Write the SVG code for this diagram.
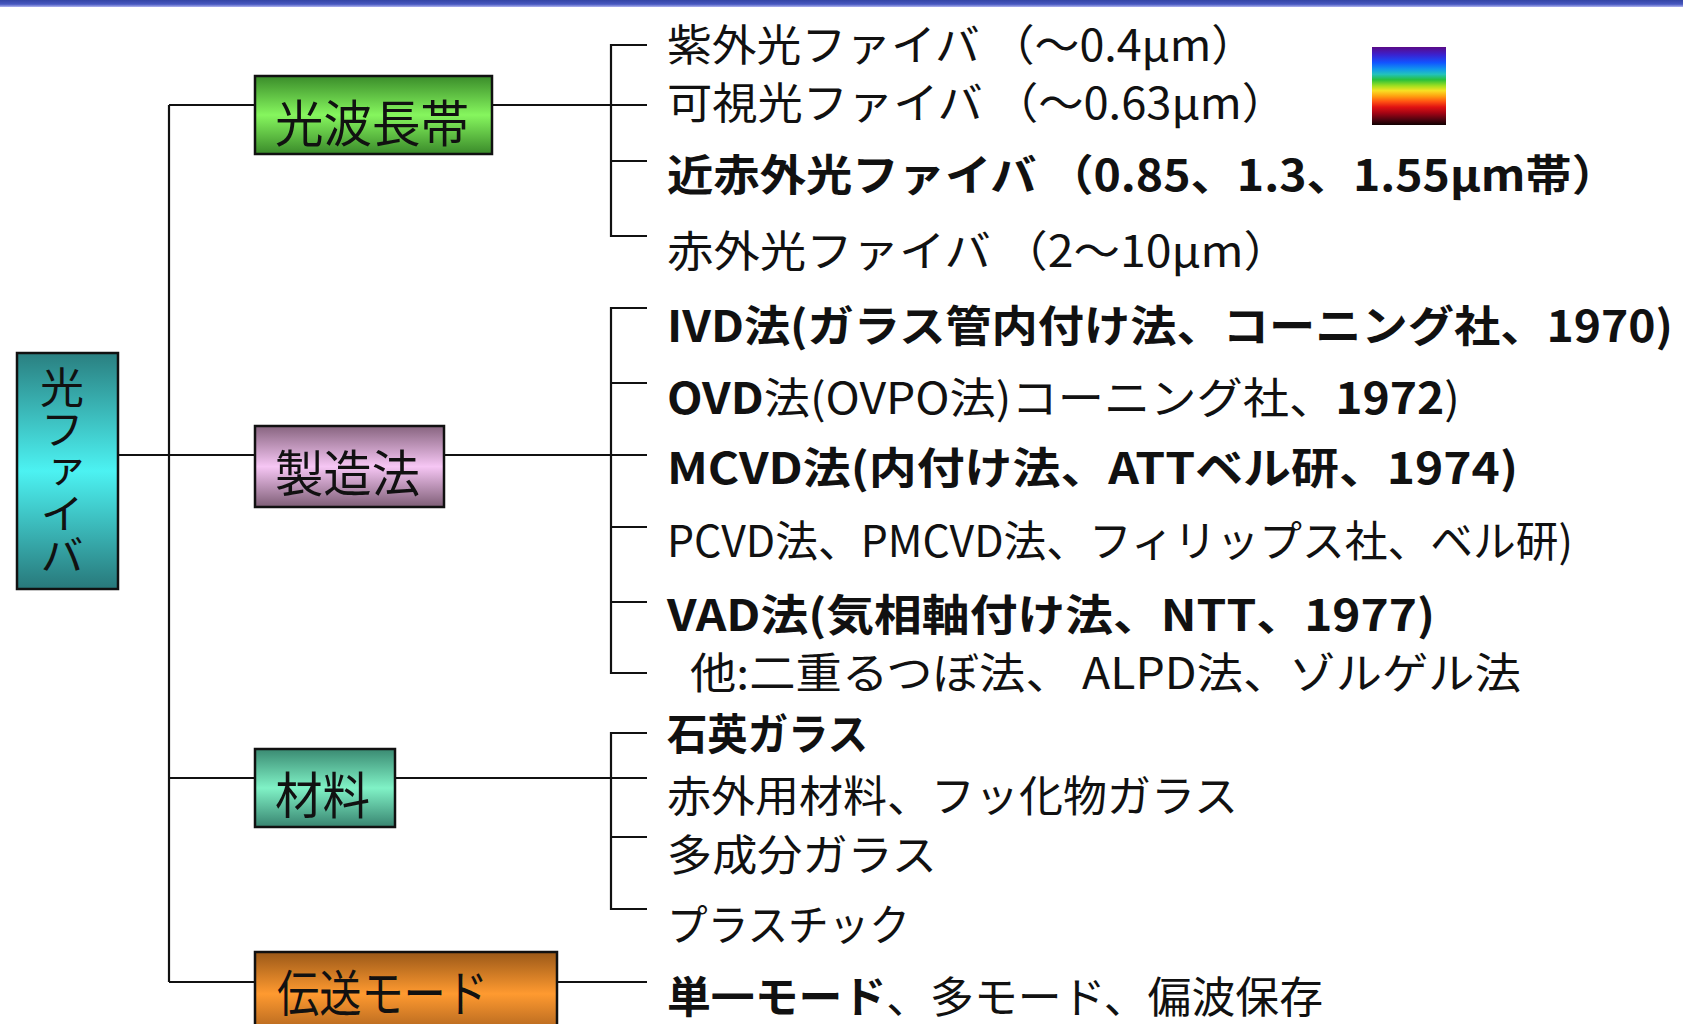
<svg xmlns="http://www.w3.org/2000/svg" width="1683" height="1024" viewBox="0 0 1683 1024">
<defs>
<linearGradient id="gTop" x1="0" y1="0" x2="0" y2="1"><stop offset="0" stop-color="#3444a4"/><stop offset="0.6" stop-color="#4858c0"/><stop offset="1" stop-color="#b0b4f0"/></linearGradient>
<linearGradient id="gTeal" x1="0" y1="0" x2="0" y2="1"><stop offset="0" stop-color="#2a7f80"/><stop offset="0.5" stop-color="#4cf2f2"/><stop offset="1" stop-color="#28787a"/></linearGradient>
<linearGradient id="gGreen" x1="0" y1="0" x2="0" y2="1"><stop offset="0" stop-color="#3a8c2a"/><stop offset="0.5" stop-color="#86f65e"/><stop offset="1" stop-color="#3a8a2a"/></linearGradient>
<linearGradient id="gMauve" x1="0" y1="0" x2="0" y2="1"><stop offset="0" stop-color="#87647f"/><stop offset="0.5" stop-color="#f6c6f4"/><stop offset="1" stop-color="#7e5e76"/></linearGradient>
<linearGradient id="gAqua" x1="0" y1="0" x2="0" y2="1"><stop offset="0" stop-color="#3a8a72"/><stop offset="0.5" stop-color="#80f2c6"/><stop offset="1" stop-color="#388470"/></linearGradient>
<linearGradient id="gOrange" x1="0" y1="0" x2="0" y2="1"><stop offset="0" stop-color="#9a5818"/><stop offset="0.55" stop-color="#ff9a30"/><stop offset="1" stop-color="#b86a20"/></linearGradient>
<linearGradient id="gSpec" x1="0" y1="0" x2="0" y2="1">
<stop offset="0" stop-color="#5a0a86"/><stop offset="0.1" stop-color="#3a22d0"/><stop offset="0.2" stop-color="#1254ff"/><stop offset="0.28" stop-color="#1094ee"/><stop offset="0.35" stop-color="#22c2bc"/><stop offset="0.42" stop-color="#28c03c"/><stop offset="0.5" stop-color="#a4e020"/><stop offset="0.56" stop-color="#f8e024"/><stop offset="0.63" stop-color="#ffa010"/><stop offset="0.7" stop-color="#ff5212"/><stop offset="0.77" stop-color="#e01212"/><stop offset="0.85" stop-color="#a00414"/><stop offset="0.93" stop-color="#500410"/><stop offset="1" stop-color="#100000"/>
</linearGradient>
</defs>
<style>
.box{stroke:#111;stroke-width:2.5}
.ln{stroke:#111;stroke-width:2.2;fill:none}
.t{font-family:"Noto Sans CJK JP","Liberation Sans",sans-serif;font-size:43px;fill:#111;dominant-baseline:central}
.bt{font-family:"Noto Sans CJK JP","Liberation Sans",sans-serif;font-size:50px;fill:#111;dominant-baseline:central}
.b{font-weight:bold}
</style>
<rect x="0" y="0" width="1683" height="1024" fill="#ffffff"/>
<rect x="0" y="0" width="1683" height="7" fill="url(#gTop)"/>

<g id="connectors">
<path class="ln" d="M169 105V982M118 455H255M169 105H255M169 778H255M169 982H255"/>
<path class="ln" d="M492 105H647M444 455H647M395 778H647M557 982H647"/>
<path class="ln" d="M647 45H611V236H647M611 161H647"/>
<path class="ln" d="M647 308H611V673H647M611 383H647M611 527H647M611 602H647"/>
<path class="ln" d="M647 733H611V909H647M611 837H647"/>
</g>

<g id="node-root">
<rect class="box" x="17" y="353" width="101" height="236" fill="url(#gTeal)"/>
<text x="62" y="366" writing-mode="vertical-rl" font-family="'Noto Sans CJK JP', sans-serif" font-size="44" fill="#111" textLength="210" lengthAdjust="spacingAndGlyphs">光ファイバ</text>
</g>

<g id="node-wavelength">
<rect class="box" x="255" y="76" width="237" height="78" fill="url(#gGreen)"/>
<text class="bt" x="275" y="120" textLength="194" lengthAdjust="spacingAndGlyphs">光波長帯</text>
</g>
<g id="node-method">
<rect class="box" x="255" y="426" width="189" height="81" fill="url(#gMauve)"/>
<text class="bt" x="275" y="470" textLength="145" lengthAdjust="spacingAndGlyphs">製造法</text>
</g>
<g id="node-material">
<rect class="box" x="255" y="749" width="140" height="78" fill="url(#gAqua)"/>
<text class="bt" x="275" y="792" textLength="95" lengthAdjust="spacingAndGlyphs">材料</text>
</g>
<g id="node-mode">
<rect class="box" x="255" y="952" width="302" height="76" fill="url(#gOrange)"/>
<text class="bt" x="277" y="990" font-size="48" textLength="211" lengthAdjust="spacingAndGlyphs">伝送モード</text>
</g>

<g id="spectrum">
<rect x="1372" y="47" width="74" height="78" fill="url(#gSpec)"/>
</g>

<g id="wavelength-items">
<text class="t" x="667" y="42" textLength="589" lengthAdjust="spacingAndGlyphs">紫外光ファイバ （～0.4μm）</text>
<text class="t" x="667" y="100" textLength="620" lengthAdjust="spacingAndGlyphs">可視光ファイバ （～0.63μm）</text>
<text class="t b" x="667" y="172" textLength="951" lengthAdjust="spacingAndGlyphs">近赤外光ファイバ （0.85、1.3、1.55μm帯）</text>
<text class="t" x="667" y="248" textLength="623" lengthAdjust="spacingAndGlyphs">赤外光ファイバ （2～10μm）</text>
</g>

<g id="method-items">
<text class="t b" x="667" y="323" textLength="1006" lengthAdjust="spacingAndGlyphs">IVD法(ガラス管内付け法、コーニング社、1970)</text>
<text class="t" x="667" y="395" textLength="793" lengthAdjust="spacingAndGlyphs"><tspan class="b">OVD</tspan>法(OVPO法)コーニング社、<tspan class="b">1972</tspan>)</text>
<text class="t b" x="667" y="465" textLength="851" lengthAdjust="spacingAndGlyphs">MCVD法(内付け法、ATTベル研、1974)</text>
<text class="t" x="667" y="538" textLength="906" lengthAdjust="spacingAndGlyphs">PCVD法、PMCVD法、フィリップス社、ベル研)</text>
<text class="t b" x="667" y="612" textLength="768" lengthAdjust="spacingAndGlyphs">VAD法(気相軸付け法、NTT、1977)</text>
<text class="t" x="690" y="670" textLength="831" lengthAdjust="spacingAndGlyphs">他:二重るつぼ法、 ALPD法、ゾルゲル法</text>
</g>

<g id="material-items">
<text class="t b" x="667" y="731" textLength="201" lengthAdjust="spacingAndGlyphs">石英ガラス</text>
<text class="t" x="667" y="793" textLength="571" lengthAdjust="spacingAndGlyphs">赤外用材料、フッ化物ガラス</text>
<text class="t" x="667" y="852" textLength="270" lengthAdjust="spacingAndGlyphs">多成分ガラス</text>
<text class="t" x="667" y="922" textLength="243" lengthAdjust="spacingAndGlyphs">プラスチック</text>
</g>

<g id="mode-items">
<text class="t" x="667" y="994" textLength="656" lengthAdjust="spacingAndGlyphs"><tspan class="b">単一モード</tspan>、多モード、偏波保存</text>
</g>
</svg>
